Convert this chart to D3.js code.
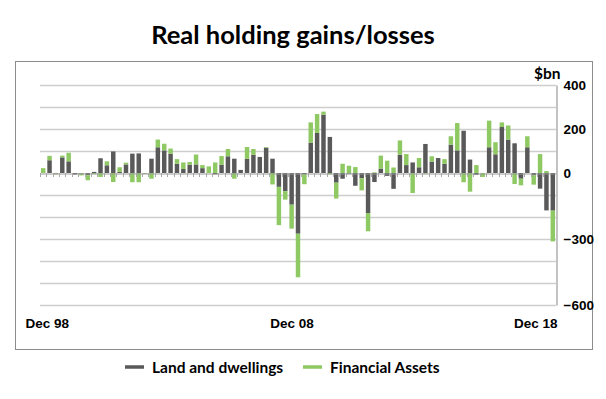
<!DOCTYPE html>
<html>
<head>
<meta charset="utf-8">
<script src="https://cdn.jsdelivr.net/npm/d3@7"></script>
<style>
  body { margin: 0; background: #fff; }
  svg { display: block; }
</style>
</head>
<body>
<div id="chart"></div>
<script>
// quarters, Dec 98 .. Dec 18
const quarters = [
  "Dec 98",
  "Mar 99", "Jun 99", "Sep 99", "Dec 99",
  "Mar 00", "Jun 00", "Sep 00", "Dec 00",
  "Mar 01", "Jun 01", "Sep 01", "Dec 01",
  "Mar 02", "Jun 02", "Sep 02", "Dec 02",
  "Mar 03", "Jun 03", "Sep 03", "Dec 03",
  "Mar 04", "Jun 04", "Sep 04", "Dec 04",
  "Mar 05", "Jun 05", "Sep 05", "Dec 05",
  "Mar 06", "Jun 06", "Sep 06", "Dec 06",
  "Mar 07", "Jun 07", "Sep 07", "Dec 07",
  "Mar 08", "Jun 08", "Sep 08", "Dec 08",
  "Mar 09", "Jun 09", "Sep 09", "Dec 09",
  "Mar 10", "Jun 10", "Sep 10", "Dec 10",
  "Mar 11", "Jun 11", "Sep 11", "Dec 11",
  "Mar 12", "Jun 12", "Sep 12", "Dec 12",
  "Mar 13", "Jun 13", "Sep 13", "Dec 13",
  "Mar 14", "Jun 14", "Sep 14", "Dec 14",
  "Mar 15", "Jun 15", "Sep 15", "Dec 15",
  "Mar 16", "Jun 16", "Sep 16", "Dec 16",
  "Mar 17", "Jun 17", "Sep 17", "Dec 17",
  "Mar 18", "Jun 18", "Sep 18", "Dec 18"
];

// $bn
const landDwellings = [
  0,
  58, -3, 71, 53,
  -7, -3, -10, 5,
  67, 35, 98, 5,
  39, 88, 89, -2,
  65, 117, 103, 88,
  42, 18, 38, 39,
  22, 0, -6, 38,
  76, 65, 14, 65,
  83, 73, 115, 65,
  -63, -83, -144, -276,
  -7, 138, 182, 265,
  164, -44, -26, -3,
  -58, -24, -182, -41,
  20, -13, -72, 83,
  36, 48, 26, 132,
  52, 68, 42, 129,
  103, 192, 61, -8,
  0, 117, 85, 209,
  152, 135, -26, 117,
  -11, -71, -170, -171
];

const financialAssets = [
  22,
  20, -3, 8, 39,
  0, -8, -23, -5,
  -18, 18, -41, 21,
  8, -42, -42, -2,
  -26, 35, 30, 23,
  21, 30, 12, 45,
  14, 30, 48, 39,
  33, -26, 0, 53,
  26, 0, 3, -52,
  -174, -38, -109, -198,
  -44, 92, 86, 14,
  -6, -72, 42, 33,
  27, -55, -83, 3,
  59, 56, 25, 65,
  50, -91, 42, -3,
  24, 0, 21, 38,
  124, -42, -85, 36,
  -18, 121, 55, 21,
  64, -50, -30, 50,
  -42, 86, 9, -140
];

const seriesNames = ["Land and dwellings", "Financial Assets"];
const seriesColors = ["#595959", "#8fc963"];
const yTickValues = [400, 200, 0, -300, -600];
const yGridValues = [400, 300, 200, 100, 0, -100, -200, -300, -400, -500, -600];
const xLabelQuarters = ["Dec 98", "Dec 08", "Dec 18"];

const W = 606, H = 399;
const plot = { left: 40, right: 556, top: 85, bottom: 305 };

const svg = d3.select("#chart").append("svg")
  .attr("width", W)
  .attr("height", H);

// outer frame
svg.append("rect")
  .attr("x", 15.5).attr("y", 61.5)
  .attr("width", 577).attr("height", 288)
  .attr("fill", "none")
  .attr("stroke", "#8c8c8c")
  .attr("stroke-width", 1);

svg.append("text")
  .attr("x", 293).attr("y", 44)
  .attr("text-anchor", "middle")
  .style("font-family", "Lato, 'Open Sans', sans-serif")
  .style("font-weight", "bold")
  .style("font-size", "25.5px")
  .style("fill", "#000")
  .text("Real holding gains/losses");

const rows = quarters.map((q, i) => ({
  q: q,
  land: landDwellings[i],
  fin: financialAssets[i]
}));

const x = d3.scaleBand()
  .domain(quarters)
  .range([plot.left, plot.right])
  .paddingInner(0.3)
  .paddingOuter(0.15);

const y = d3.scaleLinear()
  .domain([-600, 400])
  .range([plot.bottom, plot.top]);

// gridlines
svg.append("g")
  .selectAll("line")
  .data(yGridValues.filter(v => v !== 0))
  .join("line")
  .attr("x1", plot.left).attr("x2", plot.right)
  .attr("y1", d => Math.round(y(d)) + 0.5)
  .attr("y2", d => Math.round(y(d)) + 0.5)
  .attr("stroke", "#cdcdcd")
  .attr("stroke-width", 1.3);

// stacked bars (positive up, negative down)
const stack = d3.stack()
  .keys(["land", "fin"])
  .offset(d3.stackOffsetDiverging);
const stacked = stack(rows);

svg.append("g")
  .selectAll("g")
  .data(stacked)
  .join("g")
  .attr("fill", (d, i) => seriesColors[i])
  .selectAll("rect")
  .data(d => d)
  .join("rect")
  .attr("x", d => x(d.data.q))
  .attr("width", x.bandwidth())
  .attr("y", d => y(Math.max(d[0], d[1])))
  .attr("height", d => Math.abs(y(d[0]) - y(d[1])));

// zero axis with category ticks
const xAxis = svg.append("g")
  .attr("transform", `translate(0, ${Math.round(y(0)) + 0.5})`)
  .call(d3.axisBottom(x).tickSize(0).tickFormat(""));
xAxis.select(".domain").attr("stroke", "#9a9a9a").attr("stroke-width", 1);

svg.append("g")
  .selectAll("line")
  .data(quarters)
  .join("line")
  .attr("x1", d => Math.round(x(d) - x.step() * x.paddingInner() / 2) + 0.5)
  .attr("x2", d => Math.round(x(d) - x.step() * x.paddingInner() / 2) + 0.5)
  .attr("y1", Math.round(y(0)))
  .attr("y2", Math.round(y(0)) + 4)
  .attr("stroke", "#a8a8a8");

// right axis
const yAxis = svg.append("g")
  .attr("transform", `translate(${plot.right + 0.5}, 0)`)
  .call(d3.axisRight(y).tickValues(yTickValues).tickSize(0).tickPadding(7));
yAxis.select(".domain").attr("stroke", "#9a9a9a").attr("stroke-width", 1.2);
yAxis.selectAll("text")
  .style("font-family", "'Liberation Sans', Arial, sans-serif")
  .style("font-weight", "bold")
  .style("font-size", "13.5px")
  .style("fill", "#000");

svg.append("text")
  .attr("x", 534).attr("y", 79)
  .style("font-family", "Lato, sans-serif")
  .style("font-weight", "bold")
  .style("font-size", "15.5px")
  .style("fill", "#000")
  .text("$bn");

// x labels
const xLabelOffset = { "Dec 98": 4, "Dec 08": -6, "Dec 18": -17 };
svg.append("g")
  .selectAll("text")
  .data(xLabelQuarters)
  .join("text")
  .attr("x", d => x(d) + x.bandwidth() / 2 + xLabelOffset[d])
  .attr("y", 328)
  .attr("text-anchor", "middle")
  .style("font-family", "'Liberation Sans', Arial, sans-serif")
  .style("font-weight", "bold")
  .style("font-size", "13.5px")
  .style("fill", "#000")
  .text(d => d);

// legend
const legendX = [125, 303];
const legend = svg.append("g")
  .selectAll("g")
  .data(seriesNames)
  .join("g")
  .attr("transform", (d, i) => `translate(${legendX[i]}, 367)`);
legend.append("line")
  .attr("x1", 0).attr("x2", 19)
  .attr("stroke", (d, i) => seriesColors[i])
  .attr("stroke-width", 3.5);
legend.append("text")
  .attr("x", 27).attr("y", 5.5)
  .style("font-family", "Lato, sans-serif")
  .style("font-weight", "bold")
  .style("font-size", "15.5px")
  .style("fill", "#000")
  .text(d => d);
</script>
</body>
</html>
